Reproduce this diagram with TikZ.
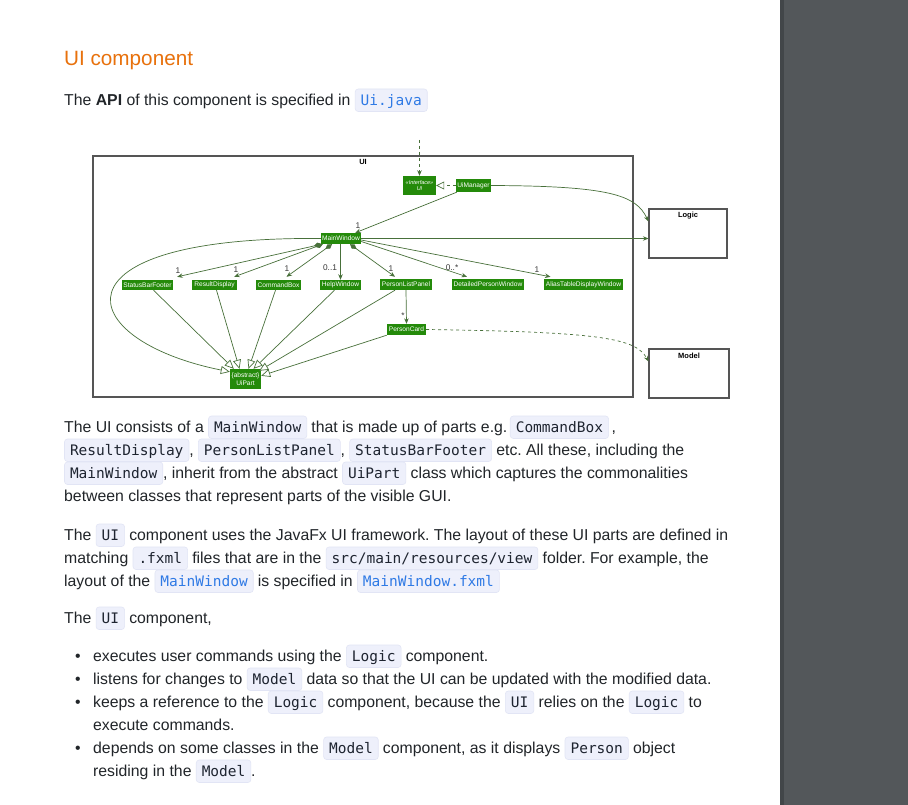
\documentclass[tikz,border=0pt]{standalone}
\usepackage{fontspec}
\setmainfont{Liberation Sans}
\newfontfamily\codefont{DejaVu Sans Mono}
\usetikzlibrary{arrows.meta,calc}
\frenchspacing

\definecolor{sidegray}{RGB}{83,87,90}
\definecolor{sideedge}{RGB}{66,70,73}
\definecolor{titleorange}{RGB}{232,113,12}
\definecolor{bodyfg}{RGB}{33,37,41}
\definecolor{codebg}{RGB}{238,240,251}
\definecolor{codeedge}{RGB}{226,229,245}
\definecolor{codefg}{RGB}{30,36,48}
\definecolor{linkfg}{RGB}{47,122,229}
\definecolor{umlgreen}{RGB}{36,138,10}
\definecolor{lineg}{RGB}{72,112,58}
\definecolor{pkgline}{RGB}{85,85,85}
\definecolor{multgray}{RGB}{55,55,55}

% inline code chips
\newcommand\cdbox[2]{\tikz[baseline=(cdn.base)]\node[fill=codebg,draw=codeedge,line width=0.6pt,rounded corners=3pt,inner xsep=5.5pt,inner ysep=4.5pt,text height=12pt,text depth=1.5pt,text=#1,font=\fontsize{14.5}{16}\codefont](cdn){#2};}
\newcommand\cd[1]{\cdbox{codefg}{#1}}
\newcommand\cdl[1]{\cdbox{linkfg}{#1}}

\tikzset{
  >={Stealth[length=5.5pt,width=4.5pt,inset=1.8pt]},
  bodyline/.style={anchor=base west,inner sep=0pt,text=bodyfg,font=\fontsize{15.8}{23}\selectfont},
  gbox/.style={fill=umlgreen,text=white,inner sep=0pt,font=\fontsize{6.6}{7.5}\selectfont},
  pkg/.style={draw=pkgline,line width=1.1pt,fill=white,inner sep=0pt},
  pkgtitle/.style={font=\fontsize{7.5}{8.5}\selectfont\bfseries,inner sep=0pt},
  conn/.style={draw=lineg,line width=0.7pt},
  dep/.style={conn,dash pattern=on 3pt off 3pt},
  nav/.style={conn,->},
  comp/.style={conn,{Diamond[length=8pt,width=5pt]}->},
  inh/.style={conn,-{Triangle[length=9pt,width=8pt,fill=white]}},
  mult/.style={font=\fontsize{8.3}{9}\selectfont,text=multgray,inner sep=0pt}
}

\begin{document}
\begin{tikzpicture}[x=1pt,y=-1pt]
\useasboundingbox (0,0) rectangle (908,805);
\fill[white] (0,0) rectangle (908,805);
\fill[sidegray] (780,0) rectangle (908,805);
\fill[sideedge] (780,0) rectangle (784,805);

% heading and first paragraph
\node[anchor=base west,inner sep=0pt,text=titleorange,font=\fontsize{20.7}{25}\selectfont] (title) at (64,65.5) {UI component};
\node[bodyline] (p1) at (64,105.5) {The \textbf{API} of this component is specified in \cdl{Ui.java}};

% packages
\node[pkg,minimum width=540pt,minimum height=241pt] (uipkg) at (363,276.5) {};
\node[pkgtitle] (uipkgt) at (363,162) {UI};
\node[pkg,minimum width=78pt,minimum height=49pt] (logic) at (688,233.5) {};
\node[pkgtitle] (logict) at (688,215.5) {Logic};
\node[pkg,minimum width=80pt,minimum height=49pt] (model) at (689,373.5) {};
\node[pkgtitle] (modelt) at (689,355.5) {Model};

% classes
\node[gbox,minimum width=33pt,minimum height=19pt,align=center,font=\fontsize{5.5}{6.8}\selectfont\itshape] (ui) at (419.5,185.5) {«Interface»\\UI};
\node[gbox,minimum width=35pt,minimum height=13pt] (uimgr) at (473.5,185.5) {UiManager};
\node[gbox,minimum width=40pt,minimum height=11pt] (mw) at (341,238.5) {MainWindow};
\node[gbox,minimum width=51pt,minimum height=10pt] (sbf) at (147.5,285) {StatusBarFooter};
\node[gbox,minimum width=45pt,minimum height=10pt] (rd) at (214.5,285) {ResultDisplay};
\node[gbox,minimum width=45pt,minimum height=10pt] (cb) at (278.5,285) {CommandBox};
\node[gbox,minimum width=41pt,minimum height=10pt] (hw) at (340.5,285) {HelpWindow};
\node[gbox,minimum width=52pt,minimum height=11pt] (plp) at (406,284.5) {PersonListPanel};
\node[gbox,minimum width=72pt,minimum height=11pt] (dpw) at (488,284.5) {DetailedPersonWindow};
\node[gbox,minimum width=79pt,minimum height=11pt] (atdw) at (583.5,284.5) {AliasTableDisplayWindow};
\node[gbox,minimum width=39pt,minimum height=11pt] (pc) at (406.5,329.5) {PersonCard};
\node[gbox,minimum width=31pt,minimum height=20pt,align=center] (uipart) at (245.5,379) {\{abstract\}\\UiPart};

% incoming dependency on the UI interface
\coordinate (apiin) at (419.5,140);
\draw[dep,->] (apiin) -- (ui.north);
\draw[dep,-{Triangle[length=8pt,width=8pt,fill=white]}] (uimgr.west) -- (ui.east);

% associations
\draw[nav] (uimgr.east) .. controls (610,186) and (636,195) .. ($(logic.north west)+(0,13)$);
\draw[nav] (uimgr) -- (mw);
\node[mult] (m0) at (358,226) {1};
\draw[nav] (mw.east) -- (logic.west |- mw.east);

% parts of the main window
\draw[comp] ($(mw.south west)+(1,0)$) -- ($(sbf.north east)+(4,-3)$);
\node[mult] (m1) at (178,270.5) {1};
\draw[comp] ($(mw.south west)+(2,0)$) -- ($(rd.north east)+(-3,-3)$);
\node[mult] (m2) at (236,269.5) {1};
\draw[comp] ($(mw.south)+(-9,0)$) -- ($(cb.north)+(8,-3)$);
\node[mult] (m3) at (287,268.5) {1};
\draw[nav] (hw.north |- mw.south) -- (hw.north);
\node[mult] (m4) at (330,268) {0..1};
\draw[comp] ($(mw.south)+(9,0)$) -- ($(plp.north)+(-11,-2)$);
\node[mult] (m5) at (391,268.5) {1};
\draw[nav] ($(mw.east)+(0,3)$) -- ($(dpw.north)+(-21,-2)$);
\node[mult] (m6) at (452,268) {0..*};
\draw[nav] ($(mw.east)+(0,1.5)$) -- ($(atdw.north)+(-33,-2)$);
\node[mult] (m7) at (537,269.5) {1};
\draw[nav] (plp.south) -- (pc.north);
\node[mult] (m8) at (403,316) {*};

% generalisations to UiPart
\draw[inh] (mw.west) .. controls (45,236) and (72,340) .. ($(uipart.north west)+(0,3)$);
\draw[inh] ($(sbf.south)+(6,0)$) -- ($(uipart.north west)+(4,0)$);
\draw[inh] ($(rd.south)+(2,0)$) -- ($(uipart.north)+(-6,0)$);
\draw[inh] ($(cb.south)+(-3,0)$) -- ($(uipart.north)+(3,0)$);
\draw[inh] ($(hw.south)+(-6,0)$) -- ($(uipart.north)+(8,0)$);
\draw[inh] ($(plp.south)+(-11,0)$) -- ($(uipart.north east)+(-2,2)$);
\draw[inh] (pc.south west) -- ($(uipart.north east)+(0,7)$);

% dependency on the model
\draw[dep,->] (pc.east) .. controls (600,332) and (636,338) .. ($(model.north west)+(0,13)$);

% description
\node[bodyline] (a1) at (64,432.5) {The UI consists of a \cd{MainWindow} that is made up of parts e.g.\,\cd{CommandBox}\,,};
\node[bodyline] (a2) at (64,455.5) {\cd{ResultDisplay}, \cd{PersonListPanel}, \cd{StatusBarFooter} etc. All these, including the};
\node[bodyline] (a3) at (64,478.5) {\cd{MainWindow}, inherit from the abstract \cd{UiPart} class which captures the commonalities};
\node[bodyline] (a4) at (64,501.5) {between classes that represent parts of the visible GUI.};

\node[bodyline] (b1) at (64,540.5) {The \cd{UI} component uses the JavaFx UI framework. The layout of these UI parts are defined in};
\node[bodyline] (b2) at (64,563.5) {matching \cd{.fxml} files that are in the \cd{src/main/resources/view} folder. For example, the};
\node[bodyline] (b3) at (64,586.5) {layout of the \cdl{MainWindow} is specified in \cdl{MainWindow.fxml}};

\node[bodyline] (c1) at (64,623.5) {The \cd{UI} component,};

\node[bodyline] (d1b) at (75,661.5) {•};
\node[bodyline] (d1) at (93,661.5) {executes user commands using the \cd{Logic} component.};
\node[bodyline] (d2b) at (75,684.5) {•};
\node[bodyline] (d2) at (93,684.5) {listens for changes to \cd{Model} data so that the UI can be updated with the modified data.};
\node[bodyline] (d3b) at (75,707.5) {•};
\node[bodyline] (d3) at (93,707.5) {keeps a reference to the \cd{Logic} component, because the \cd{UI} relies on the \cd{Logic} to};
\node[bodyline] (d3c) at (93,730.5) {execute commands.};
\node[bodyline] (d4b) at (75,753.5) {•};
\node[bodyline] (d4) at (93,753.5) {depends on some classes in the \cd{Model} component, as it displays \cd{Person} object};
\node[bodyline] (d4c) at (93,776.5) {residing in the \cd{Model}.};
\end{tikzpicture}
\end{document}
